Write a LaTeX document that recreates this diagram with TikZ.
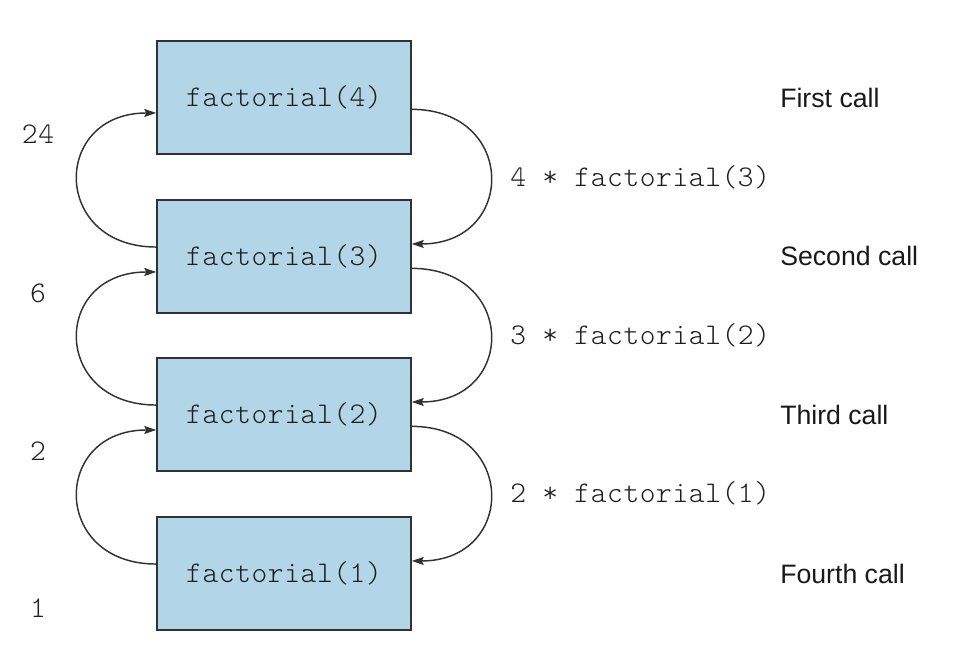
\documentclass[tikz,border=0pt]{standalone}
\usepackage{fontspec}
\setmainfont{Liberation Sans}
\newfontfamily\codefont{Latin Modern Mono Light}[LetterSpace=2]
\usetikzlibrary{arrows.meta}
\definecolor{boxfill}{RGB}{178,213,232}
\definecolor{boxline}{RGB}{50,50,50}
\definecolor{codegray}{RGB}{30,30,30}
\tikzset{
  callbox/.style={draw=boxline, line width=1.1pt, fill=boxfill,
    minimum width=190.5pt, minimum height=84.75pt, inner sep=0pt,
    font=\fontsize{22.5}{26}\selectfont\codefont, text=codegray},
  codelabel/.style={anchor=west, inner sep=0pt,
    font=\fontsize{22.5}{26}\selectfont\codefont, text=codegray},
  retlabel/.style={inner sep=0pt,
    font=\fontsize{22.5}{26}\selectfont\codefont, text=codegray},
  calllabel/.style={anchor=west, inner sep=0pt,
    font=\fontsize{20}{24}\selectfont, text=black!90},
  flow/.style={draw=boxline, line width=1.1pt,
    -{Stealth[length=9pt,width=6pt,inset=1.5pt]}},
}
\begin{document}
\begin{tikzpicture}[x=0.75pt,y=-0.75pt]
\useasboundingbox (0,0) rectangle (956,668);

% the four recursive calls
\node[callbox] (f4) at (284,97.5)  {factorial(4)};
\node[callbox] (f3) at (284,256.5) {factorial(3)};
\node[callbox] (f2) at (284,414.5) {factorial(2)};
\node[callbox] (f1) at (284,573.5) {factorial(1)};

% call names
\node[calllabel] (c1) at (780,98)  {First call};
\node[calllabel] (c2) at (780,256) {Second call};
\node[calllabel] (c3) at (780,415) {Third call};
\node[calllabel] (c4) at (780,574) {Fourth call};

% expressions on the way down
\node[codelabel] (e3) at (510,177) {4 * factorial(3)};
\node[codelabel] (e2) at (510,335) {3 * factorial(2)};
\node[codelabel] (e1) at (510,493) {2 * factorial(1)};

% returned values
\node[retlabel] (r4) at (38,134) {24};
\node[retlabel] (r3) at (38,293) {6};
\node[retlabel] (r2) at (38,451) {2};
\node[retlabel] (r1) at (38,608) {1};

% descending calls (right side)
\foreach \a/\b in {f4/f3, f3/f2, f2/f1}{
  \draw[flow] ([yshift=-8.9pt]\a.east)
    .. controls +(78.75pt,0) and +(78.75pt,0) .. ([yshift=9.4pt]\b.east);
}
% returning values (left side)
\foreach \a/\b in {f3/f4, f2/f3, f1/f2}{
  \draw[flow] ([yshift=7.1pt]\a.west)
    .. controls +(-78.75pt,0) and +(-78.75pt,0) .. ([yshift=-11.6pt]\b.west);
}
\end{tikzpicture}
\end{document}
